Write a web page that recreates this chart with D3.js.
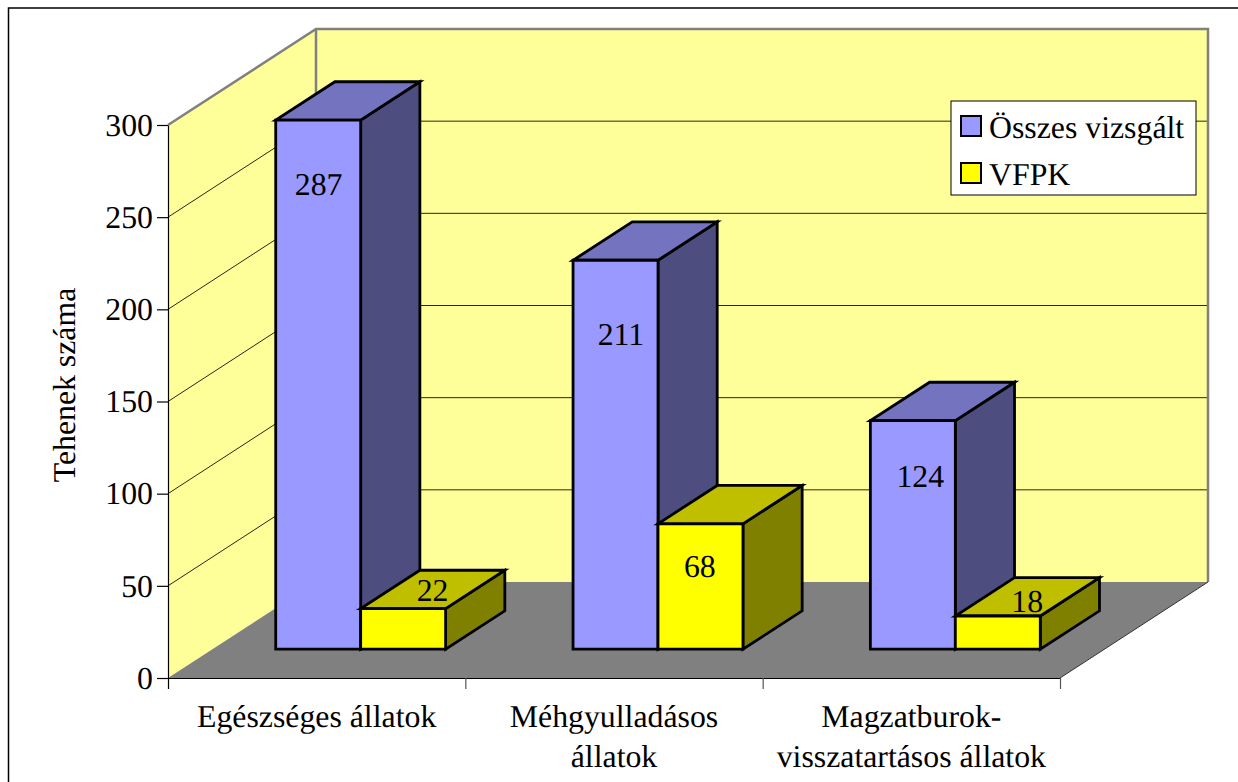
<!DOCTYPE html>
<html>
<head>
<meta charset="utf-8">
<script src="https://cdn.jsdelivr.net/npm/d3@7"></script>
<style>
  html, body { margin: 0; padding: 0; background: #fff; overflow: hidden; }
  text { font-family: "Liberation Serif", serif; fill: #000; text-rendering: geometricPrecision; }
</style>
</head>
<body>
<svg id="chart" width="1238" height="782"></svg>
<script>
// values
const CATEGORIES = [
    ["Egészséges állatok"],
    ["Méhgyulladásos", "állatok"],
    ["Magzatburok-", "visszatartásos állatok"]
];
const SERIES_NAMES = ["Összes vizsgált", "VFPK"];
const OSSZES = [287, 211, 124];
const VFPK = [22, 68, 18];
const Y_TICKS = [0, 50, 100, 150, 200, 250, 300];

const AXIS_LEFT = 168, AXIS_RIGHT = 1060, AXIS_BOTTOM = 678, AXIS_TOP = 125;
const DEPTH_X = 148, DEPTH_Y = -96;
const FONT_SIZE = "31.8px";

// face colours per series: front, top, side
const FACES = [
    { front: "#9999ff", top: "#7373bf", side: "#4d4d80" },
    { front: "#ffff00", top: "#bfbf00", side: "#808000" }
];

const svg = d3.select("#chart");

const y = d3.scaleLinear().domain([0, 300]).range([AXIS_BOTTOM, AXIS_TOP]);
const x = d3.scaleLinear().domain([0, CATEGORIES.length]).range([AXIS_LEFT, AXIS_RIGHT]);
const depthX = d3.scaleLinear().domain([0, 1]).range([0, DEPTH_X]);
const depthY = d3.scaleLinear().domain([0, 1]).range([0, DEPTH_Y]);

// oblique projection: horizontal pos, value, depth (0 front .. 1 back)
function pt(px, v, d) {
    return [px + depthX(d), y(v) + depthY(d)];
}
function poly(points) {
    return d3.line()(points) + "Z";
}

// frame, runs off the right and bottom of the picture
svg.append("rect")
    .attr("x", 8.5).attr("y", 8).attr("width", 1300).attr("height", 900)
    .attr("fill", "#fff").attr("stroke", "#000").attr("stroke-width", 1.5);

// walls and floor
const WALL = "#ffff99", GREY = "#808080";
svg.append("path")
    .attr("d", poly([pt(AXIS_LEFT, 0, 0), pt(AXIS_LEFT, 300, 0), pt(AXIS_LEFT, 300, 1), pt(AXIS_LEFT, 0, 1)]))
    .attr("fill", WALL);
svg.append("path")
    .attr("d", poly([pt(AXIS_LEFT, 0, 1), pt(AXIS_LEFT, 300, 1), pt(AXIS_RIGHT, 300, 1), pt(AXIS_RIGHT, 0, 1)]))
    .attr("fill", WALL);
svg.append("path")
    .attr("d", poly([pt(AXIS_LEFT, 0, 0), pt(AXIS_RIGHT, 0, 0), pt(AXIS_RIGHT, 0, 1), pt(AXIS_LEFT, 0, 1)]))
    .attr("fill", GREY);

// gridlines
Y_TICKS.filter(function(t) { return t > 0 && t < 300; }).forEach(function(t) {
    svg.append("path")
        .attr("d", d3.line()([pt(AXIS_LEFT, t, 0), pt(AXIS_LEFT, t, 1), pt(AXIS_RIGHT, t, 1)]))
        .attr("fill", "none").attr("stroke", "#000").attr("stroke-width", 1).attr("stroke-opacity", 0.85);
});
// top of the back wall is grey
svg.append("path")
    .attr("d", d3.line()([pt(AXIS_LEFT, 300, 0), pt(AXIS_LEFT, 300, 1), pt(AXIS_RIGHT, 300, 1), pt(AXIS_RIGHT, 0, 1)]))
    .attr("fill", "none").attr("stroke", GREY).attr("stroke-width", 2.5);
svg.append("path")
    .attr("d", d3.line()([pt(AXIS_LEFT, 300, 1), pt(AXIS_LEFT, 0, 1)]))
    .attr("fill", "none").attr("stroke", GREY).attr("stroke-width", 2.5);
svg.append("path")
    .attr("d", d3.line()([pt(AXIS_RIGHT, 0, 0), pt(AXIS_RIGHT, 0, 1)]))
    .attr("fill", "none").attr("stroke", "#333").attr("stroke-width", 1);

// axes
const yAxis = svg.append("g")
    .attr("transform", "translate(" + AXIS_LEFT + ",0)")
    .call(d3.axisLeft(y).tickValues(Y_TICKS).tickSize(11).tickSizeOuter(0).tickPadding(4));
const xAxis = svg.append("g")
    .attr("transform", "translate(0," + AXIS_BOTTOM + ")")
    .call(d3.axisBottom(x).ticks(CATEGORIES.length).tickSize(11).tickSizeOuter(0).tickFormat(""));
yAxis.selectAll("text").style("font-size", FONT_SIZE).style("font-family", '"Liberation Serif", serif');
yAxis.selectAll("line, path").attr("stroke-width", 1.2);
xAxis.selectAll("line, path").attr("stroke-width", 1.2);
xAxis.selectAll("line").filter(function(d) { return d > 0; }).attr("stroke", "#555");

// bars
const DEPTH_FRONT = 0.3, DEPTH_BACK = 0.7;
const GAP = 1.5; // gap width, in bars
const SERIES = [OSSZES, VFPK];
const bandW = x(1) - x(0);
const barW = bandW / (SERIES.length + GAP);

CATEGORIES.forEach(function(c, i) {
    SERIES.forEach(function(vals, s) {
        const v = vals[i];
        const x0 = x(i) + barW * (GAP / 2 + s) - 0.4;
        const x1 = x0 + barW;
        const g = svg.append("g")
            .attr("stroke", "#000").attr("stroke-width", 2.8).attr("stroke-linejoin", "miter");
        g.append("path").attr("fill", FACES[s].side)
            .attr("d", poly([pt(x1, 0, DEPTH_FRONT), pt(x1, v, DEPTH_FRONT), pt(x1, v, DEPTH_BACK), pt(x1, 0, DEPTH_BACK)]));
        g.append("path").attr("fill", FACES[s].top)
            .attr("d", poly([pt(x0, v, DEPTH_FRONT), pt(x1, v, DEPTH_FRONT), pt(x1, v, DEPTH_BACK), pt(x0, v, DEPTH_BACK)]));
        g.append("path").attr("fill", FACES[s].front)
            .attr("d", poly([pt(x0, 0, DEPTH_FRONT), pt(x1, 0, DEPTH_FRONT), pt(x1, v, DEPTH_FRONT), pt(x0, v, DEPTH_FRONT)]));
    });
});

// data labels, nudged by hand like in the original: [dx, dy] from the front top centre
const LABEL_NUDGE = [
    [[0, 64], [29, -19]],
    [[5, 74], [-1, 42]],
    [[7, 55], [29, -15]]
];
CATEGORIES.forEach(function(c, i) {
    SERIES.forEach(function(vals, s) {
        const x0 = x(i) + barW * (GAP / 2 + s);
        const p = pt(x0 + barW / 2, vals[i], DEPTH_FRONT);
        svg.append("text")
            .attr("x", p[0] + LABEL_NUDGE[i][s][0])
            .attr("y", p[1] + LABEL_NUDGE[i][s][1])
            .attr("dy", "0.35em")
            .attr("text-anchor", "middle")
            .style("font-size", FONT_SIZE)
            .text(vals[i]);
    });
});

// category labels
CATEGORIES.forEach(function(lines, i) {
    lines.forEach(function(line, j) {
        svg.append("text")
            .attr("x", (x(i) + x(i + 1)) / 2)
            .attr("y", 727 + j * 40)
            .attr("text-anchor", "middle")
            .style("font-size", FONT_SIZE)
            .text(line);
    });
});

// axis title
svg.append("text")
    .attr("transform", "translate(75,385) rotate(-90)")
    .attr("text-anchor", "middle")
    .style("font-size", FONT_SIZE)
    .text("Tehenek száma");

// legend
const legend = svg.append("g").attr("transform", "translate(951,101)");
legend.append("rect")
    .attr("x", 0).attr("y", 0).attr("width", 245).attr("height", 94)
    .attr("fill", "#fff").attr("stroke", "#000").attr("stroke-width", 1);
SERIES_NAMES.forEach(function(name, i) {
    legend.append("rect")
        .attr("x", 10).attr("y", 15 + i * 47).attr("width", 20).attr("height", 20)
        .attr("fill", FACES[i].front).attr("stroke", "#000").attr("stroke-width", 2);
    legend.append("text")
        .attr("x", 38).attr("y", 37 + i * 47)
        .style("font-size", FONT_SIZE)
        .text(name);
});
</script>
</body>
</html>
